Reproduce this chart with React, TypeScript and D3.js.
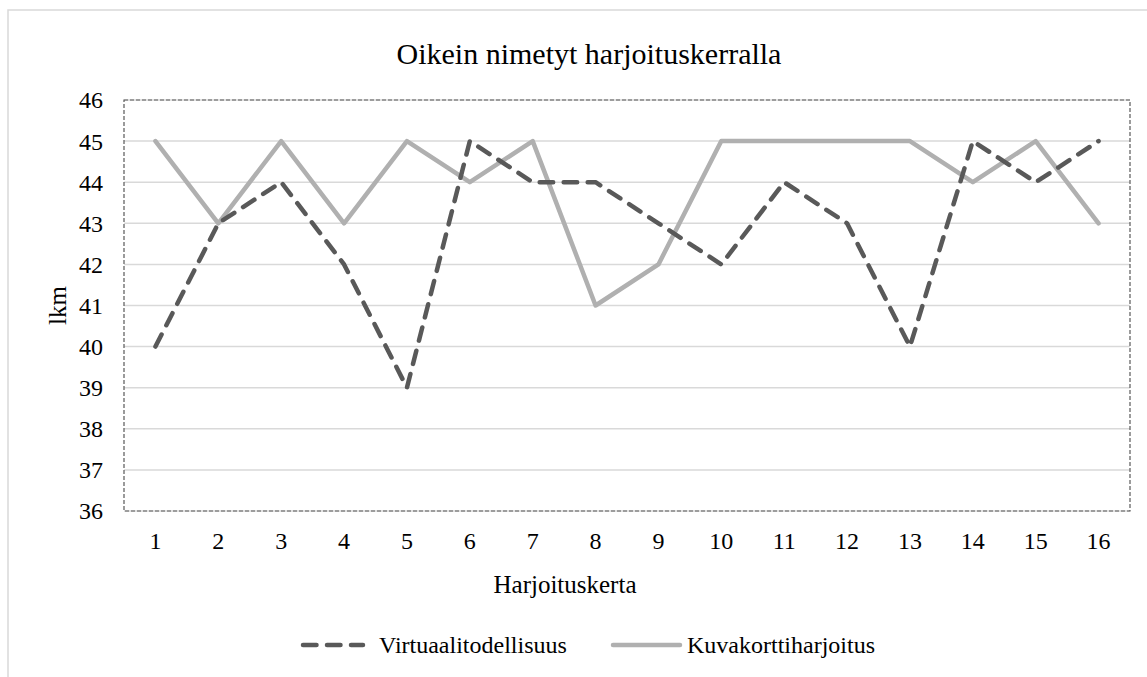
import * as d3 from 'd3';
import React from 'react';

// harjoituskerrat 1..16
const sessions = d3.range(1, 17).map(String);
const virtuaali = [40, 43, 44, 42, 39, 45, 44, 44, 43, 42, 44, 43, 40, 45, 44, 45];
const kuvakortti = [45, 43, 45, 43, 45, 44, 45, 41, 42, 45, 45, 45, 45, 44, 45, 43];
const yTicks = [36, 37, 38, 39, 40, 41, 42, 43, 44, 45, 46];

const W = 1147;
const H = 677;
const margin = { top: 100, right: 17, bottom: 166, left: 124 };
const FONT = 'Liberation Serif';

const App = () => {
  const x = d3.scaleBand().domain(sessions).range([margin.left, W - margin.right]);
  const y = d3.scaleLinear().domain([36, 46]).range([H - margin.bottom, margin.top]);
  const cx = (d: string) => (x(d) ?? 0) + x.bandwidth() / 2;

  const line = d3.line<number>()
    .x((_, i) => cx(sessions[i]))
    .y(d => y(d));

  return (
    <svg width={W} height={H} style={{ position: 'absolute', left: 0, top: 0 }}>
      <rect x={0} y={0} width={W} height={H} fill="#fff" />
      {/* chart frame */}
      <rect x={8} y={10} width={W + 20} height={H + 20} fill="none" stroke="#d9d9d9" strokeWidth={1.5} />

      <text x={589} y={64} textAnchor="middle" fontFamily={FONT} fontSize={30} fill="#000">
        Oikein nimetyt harjoituskerralla
      </text>

      {/* grid */}
      {yTicks.map(t => (
        <line key={t} x1={margin.left} x2={W - margin.right} y1={y(t)} y2={y(t)} stroke="#d9d9d9" strokeWidth={1.5} />
      ))}
      <rect x={margin.left} y={margin.top} width={W - margin.right - margin.left} height={y(36) - margin.top}
        fill="none" stroke="#595959" strokeWidth={1.2} strokeDasharray="4 2" />

      {yTicks.map(t => (
        <text key={t} x={103} y={y(t)} dy="0.35em" textAnchor="end" fontFamily={FONT} fontSize={24} fill="#000">{t}</text>
      ))}
      {sessions.map(s => (
        <text key={s} x={cx(s)} y={549} textAnchor="middle" fontFamily={FONT} fontSize={24} fill="#000">{s}</text>
      ))}

      <text x={565} y={593} textAnchor="middle" fontFamily={FONT} fontSize={25} fill="#000">Harjoituskerta</text>
      <text transform={`translate(66,${(margin.top + y(36)) / 2}) rotate(-90)`} textAnchor="middle" fontFamily={FONT} fontSize={25} fill="#000">lkm</text>

      {/* series */}
      <path d={line(kuvakortti) ?? ''} fill="none" stroke="#b0b0b0" strokeWidth={4.5} strokeLinejoin="round" strokeLinecap="round" />
      <path d={line(virtuaali) ?? ''} fill="none" stroke="#595959" strokeWidth={4.5} strokeLinejoin="round" strokeLinecap="round" strokeDasharray="13.5 10.5" />

      {/* legend */}
      <line x1={303} x2={363} y1={645} y2={645} stroke="#595959" strokeWidth={4.5} strokeLinecap="round" strokeDasharray="13.5 10.5" />
      <text x={379} y={645} dy="0.35em" fontFamily={FONT} fontSize={24} fill="#000">Virtuaalitodellisuus</text>
      <line x1={613} x2={680} y1={645} y2={645} stroke="#b0b0b0" strokeWidth={4.5} strokeLinecap="round" />
      <text x={687} y={645} dy="0.35em" fontFamily={FONT} fontSize={24} fill="#000">Kuvakorttiharjoitus</text>
    </svg>
  );
};

export default App;
